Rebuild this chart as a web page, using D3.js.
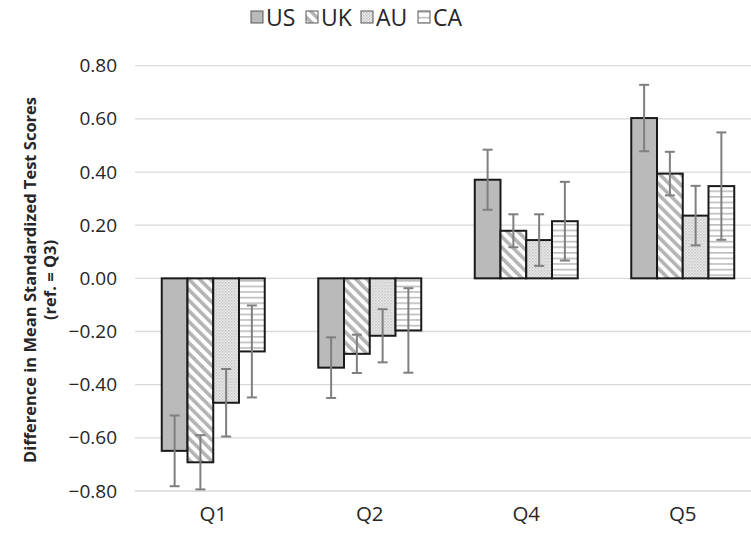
<!DOCTYPE html>
<html><head><meta charset="utf-8">
<script src="https://cdn.jsdelivr.net/npm/d3@7"></script>
<style>body{margin:0;background:#fff;} svg{display:block;font-family:"Open Sans",sans-serif;}</style>
</head><body>
<svg id="chart" width="751" height="540"></svg>
<script>
const categories = ["Q1", "Q2", "Q4", "Q5"];
const seriesNames = ["US", "UK", "AU", "CA"];
const US = [-0.649, -0.336, 0.371, 0.603];
const UK = [-0.692, -0.284, 0.179, 0.394];
const AU = [-0.468, -0.216, 0.144, 0.236];
const CA = [-0.275, -0.196, 0.215, 0.347];
const US_err = [0.133, 0.114, 0.113, 0.125];
const UK_err = [0.102, 0.072, 0.062, 0.082];
const AU_err = [0.127, 0.100, 0.097, 0.112];
const CA_err = [0.173, 0.159, 0.148, 0.202];
const yTicks = [0.8, 0.6, 0.4, 0.2, 0, -0.2, -0.4, -0.6, -0.8];

const values = {US, UK, AU, CA};
const errs = {US: US_err, UK: UK_err, AU: AU_err, CA: CA_err};

const svg = d3.select("#chart");
const defs = svg.append("defs");
// UK diagonal stripes
const pUK = defs.append("pattern").attr("id","pUK").attr("patternUnits","userSpaceOnUse")
  .attr("width",7.5).attr("height",7.5).attr("patternTransform","rotate(-45)");
pUK.append("rect").attr("width",7.5).attr("height",7.5).attr("fill","#fff");
pUK.append("rect").attr("x",0).attr("width",3.6).attr("height",7.5).attr("fill","#b4b4b4");
// AU dotted
const pAU = defs.append("pattern").attr("id","pAU").attr("patternUnits","userSpaceOnUse")
  .attr("width",3).attr("height",3);
pAU.append("rect").attr("width",3).attr("height",3).attr("fill","#f0f0f0");
pAU.append("rect").attr("width",1.5).attr("height",1.5).attr("fill","#bdbdbd");
pAU.append("rect").attr("x",1.5).attr("y",1.5).attr("width",1.5).attr("height",1.5).attr("fill","#cccccc");
// CA horizontal lines
const pCA = defs.append("pattern").attr("id","pCA").attr("patternUnits","userSpaceOnUse")
  .attr("width",6).attr("height",5.6);
pCA.append("rect").attr("width",6).attr("height",5.6).attr("fill","#fff");
pCA.append("rect").attr("y",0).attr("width",6).attr("height",1.6).attr("fill","#bcbcbc");

const fills = {US: "#bababa", UK: "url(#pUK)", AU: "url(#pAU)", CA: "url(#pCA)"};

const left = 135, step = 156.5;
const x0 = d3.scaleBand().domain(categories).range([left, left + step*categories.length]).paddingInner(0).paddingOuter(0);
const groupW = 103;
const x1 = d3.scaleBand().domain(seriesNames).range([0, groupW]);
const y = d3.scaleLinear().domain([-0.8, 0.8]).range([491, 65.7]);

// gridlines
svg.append("g").selectAll("line").data(yTicks).join("line")
  .attr("x1", left).attr("x2", 751)
  .attr("y1", d => y(d)).attr("y2", d => y(d))
  .attr("stroke", "#d9d9d9").attr("stroke-width", 1.3);

// y axis labels
const fmt = d => (d < 0 ? "\u2212" : "") + Math.abs(d).toFixed(2);
const yAxis = d3.axisLeft(y).tickValues(yTicks).tickFormat(fmt).tickSize(0).tickPadding(0);
const gy = svg.append("g").attr("transform", `translate(117,0)`).call(yAxis);
gy.select(".domain").remove();
gy.selectAll("text").attr("font-size", 19).attr("fill", "#262626").attr("font-family", "Open Sans");

// x axis labels
const xAxis = d3.axisBottom(x0).tickSize(0).tickPadding(0);
const gx = svg.append("g").attr("transform", `translate(0,506)`).call(xAxis);
gx.select(".domain").remove();
gx.selectAll("text").attr("font-size", 20.5).attr("fill", "#262626").attr("font-family", "Open Sans");

// bars
const groups = svg.append("g").selectAll("g").data(categories).join("g")
  .attr("transform", d => `translate(${x0(d) + (step - groupW)/2},0)`);
groups.each(function(cat, i) {
  const g = d3.select(this);
  seriesNames.forEach(s => {
    const v = values[s][i];
    g.append("rect")
      .attr("x", x1(s)).attr("width", x1.bandwidth())
      .attr("y", y(Math.max(0, v))).attr("height", Math.abs(y(v) - y(0)))
      .attr("fill", fills[s]).attr("stroke", "#1a1a1a").attr("stroke-width", 2);
  });
  seriesNames.forEach(s => {
    const v = values[s][i], e = errs[s][i];
    const cx = x1(s) + x1.bandwidth()/2;
    g.append("line").attr("x1", cx).attr("x2", cx).attr("y1", y(v + e)).attr("y2", y(v - e))
      .attr("stroke", "#7f7f7f").attr("stroke-width", 2);
    [v + e, v - e].forEach(t => g.append("line").attr("x1", cx - 5).attr("x2", cx + 5)
      .attr("y1", y(t)).attr("y2", y(t)).attr("stroke", "#7f7f7f").attr("stroke-width", 2));
  });
});

// legend
const legendX = [251, 306, 361, 418];
const lg = svg.append("g");
seriesNames.forEach((s, i) => {
  lg.append("rect").attr("x", legendX[i]).attr("y", 11).attr("width", 12).attr("height", 12)
    .attr("fill", fills[s]).attr("stroke", "#595959").attr("stroke-width", 1);
  lg.append("text").attr("x", legendX[i] + 15).attr("y", 26).text(s)
    .attr("font-size", 23).attr("fill", "#262626").attr("font-family", "Open Sans");
});

// y title
const tg = svg.append("g").attr("transform", "translate(0,280) rotate(-90)");
tg.append("text").attr("x", 0).attr("y", 36).attr("text-anchor", "middle")
  .attr("font-size", 16.5).attr("font-weight", "bold").attr("fill", "#262626")
  .text("Difference in Mean Standardized Test Scores");
tg.append("text").attr("x", 0).attr("y", 56).attr("text-anchor", "middle")
  .attr("font-size", 16.5).attr("font-weight", "bold").attr("fill", "#262626")
  .text("(ref. = Q3)");
</script>
</body></html>
